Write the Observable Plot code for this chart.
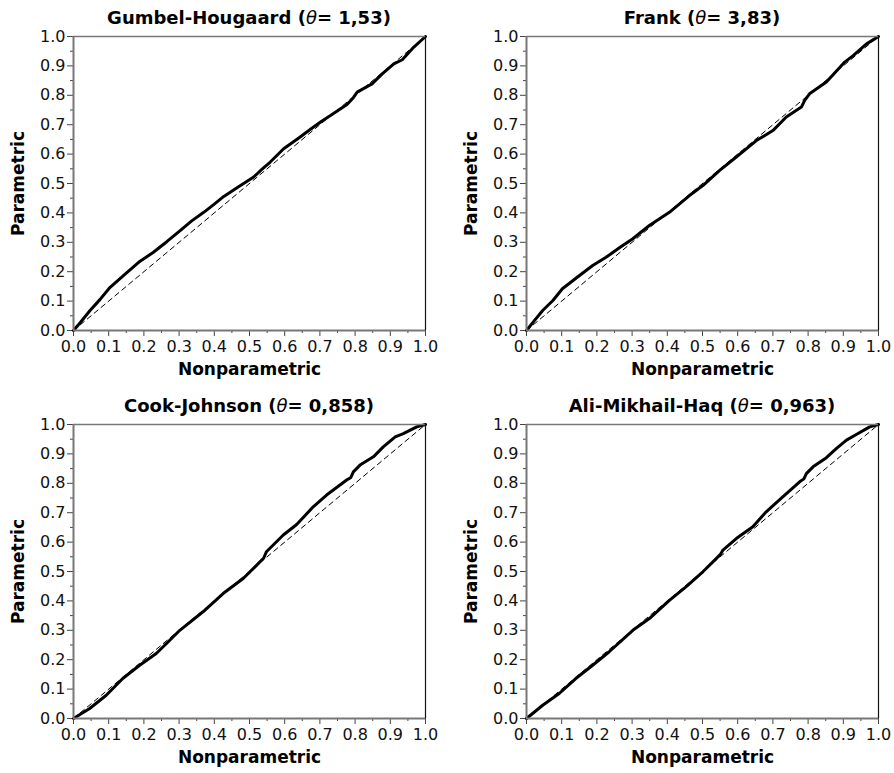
<!DOCTYPE html>
<html><head><meta charset="utf-8">
<script src="https://cdn.jsdelivr.net/npm/d3@7"></script>
<script src="https://cdn.jsdelivr.net/npm/@observablehq/plot@0.6"></script>
<style>
body{margin:0;background:#fff;}
#wrap{position:relative;width:894px;height:773px;font-family:"DejaVu Sans",sans-serif;overflow:hidden;}
.panel{position:absolute;}
.panel svg{position:absolute;left:0;top:0;}
.title{position:absolute;font-weight:bold;font-size:18px;text-align:center;line-height:24px;white-space:nowrap;color:#000;z-index:2;}
.title i{font-weight:normal;}
</style></head><body><div id="wrap"></div>
<script>
// Panel names and copula parameters
const copulaNames = ["Gumbel-Hougaard", "Frank", "Cook-Johnson", "Ali-Mikhail-Haq"];
const thetaLabels = ["1,53", "3,83", "0,858", "0,963"];

// Axis ticks
const majorTicks = [0, 0.1, 0.2, 0.3, 0.4, 0.5, 0.6, 0.7, 0.8, 0.9, 1.0];
const minorTicks = [0.05, 0.15, 0.25, 0.35, 0.45, 0.55, 0.65, 0.75, 0.85, 0.95];

// Reference (1:1) line
const diagX = [0, 1];
const diagY = [0, 1];

// Gumbel-Hougaard: nonparametric vs parametric
const gumbelX = [0, 0.02, 0.047, 0.075, 0.104, 0.145, 0.185, 0.227, 0.265, 0.303, 0.335, 0.370, 0.400, 0.427, 0.470, 0.512, 0.535, 0.559, 0.597, 0.640, 0.682, 0.705, 0.730, 0.777, 0.795, 0.806, 0.848, 0.877, 0.910, 0.934, 0.967, 1.0];
const gumbelY = [0, 0.028, 0.068, 0.105, 0.147, 0.190, 0.232, 0.266, 0.302, 0.340, 0.372, 0.402, 0.430, 0.456, 0.490, 0.522, 0.548, 0.573, 0.618, 0.655, 0.692, 0.712, 0.731, 0.769, 0.792, 0.811, 0.839, 0.873, 0.907, 0.921, 0.964, 1.0];

// Frank
const frankX = [0, 0.02, 0.046, 0.075, 0.102, 0.145, 0.188, 0.226, 0.265, 0.302, 0.349, 0.406, 0.463, 0.501, 0.548, 0.596, 0.653, 0.700, 0.738, 0.781, 0.790, 0.804, 0.852, 0.904, 0.928, 0.966, 1.0];
const frankY = [0, 0.030, 0.068, 0.102, 0.142, 0.182, 0.221, 0.249, 0.282, 0.312, 0.357, 0.402, 0.459, 0.493, 0.544, 0.590, 0.646, 0.680, 0.726, 0.760, 0.782, 0.805, 0.845, 0.913, 0.935, 0.975, 1.0];

// Cook-Johnson
const cookX = [0, 0.046, 0.093, 0.140, 0.188, 0.235, 0.270, 0.302, 0.368, 0.425, 0.482, 0.529, 0.540, 0.548, 0.596, 0.634, 0.681, 0.719, 0.776, 0.788, 0.795, 0.814, 0.852, 0.880, 0.914, 0.937, 0.975, 1.0];
const cookY = [0, 0.034, 0.079, 0.136, 0.181, 0.221, 0.262, 0.300, 0.363, 0.425, 0.476, 0.532, 0.545, 0.567, 0.624, 0.660, 0.720, 0.760, 0.811, 0.820, 0.839, 0.862, 0.890, 0.924, 0.958, 0.969, 0.992, 1.0];

// Ali-Mikhail-Haq
const amhX = [0, 0.046, 0.093, 0.140, 0.188, 0.235, 0.302, 0.349, 0.406, 0.453, 0.501, 0.539, 0.552, 0.558, 0.596, 0.643, 0.681, 0.728, 0.776, 0.788, 0.795, 0.814, 0.852, 0.880, 0.909, 0.937, 0.975, 1.0];
const amhY = [0, 0.045, 0.085, 0.136, 0.181, 0.227, 0.300, 0.340, 0.402, 0.448, 0.499, 0.544, 0.560, 0.573, 0.612, 0.652, 0.703, 0.754, 0.805, 0.815, 0.833, 0.856, 0.887, 0.918, 0.947, 0.966, 0.992, 1.0];

const seriesX = [gumbelX, frankX, cookX, amhX];
const seriesY = [gumbelY, frankY, cookY, amhY];

const positions = [[0, 0, 447], [453, 0, 441], [0, 388, 447], [453, 388, 441]];
const wrap = document.getElementById("wrap");
const fmt = d3.format(".1f");
const noText = () => "";

for (let k = 0; k < 4; k++) {
  const [left, top, width] = positions[k];
  const curve = seriesX[k].map((x, i) => ({x, y: seriesY[k][i]}));
  const diag = diagX.map((x, i) => ({x, y: diagY[i]}));
  const div = document.createElement("div");
  div.className = "panel";
  div.style.left = left + "px";
  div.style.top = top + "px";
  div.style.width = width + "px";
  div.style.height = "386px";
  const t = document.createElement("div");
  t.className = "title";
  t.style.left = "73px";
  t.style.width = "352px";
  t.style.top = "6px";
  t.innerHTML = `${copulaNames[k]} (<i>θ</i>= ${thetaLabels[k]})`;
  const chart = Plot.plot({
    width, height: 386,
    marginLeft: 73, marginRight: width - 73 - 352, marginTop: 36, marginBottom: 56,
    style: {fontFamily: "DejaVu Sans, sans-serif", fontSize: "16px", color: "#111", background: "white", overflow: "visible"},
    x: {domain: [0, 1], nice: false},
    y: {domain: [0, 1], nice: false},
    marks: [
      Plot.axisX(minorTicks, {anchor: "bottom", tickSize: 3, tickFormat: noText, stroke: "#444", label: null}),
      Plot.axisY(minorTicks, {anchor: "left", tickSize: 3, tickFormat: noText, stroke: "#444", label: null}),
      Plot.axisX(majorTicks, {anchor: "bottom", tickSize: 6, tickPadding: 4, tickFormat: fmt, stroke: "#444", fill: "#111", fontSize: 16, label: null}),
      Plot.axisY(majorTicks, {anchor: "left", tickSize: 6, tickPadding: 2, tickFormat: fmt, stroke: "#444", fill: "#111", fontSize: 16, label: null}),
      Plot.line(diag, {x: "x", y: "y", stroke: "#000", strokeWidth: 1, strokeDasharray: "5,4"}),
      Plot.line(curve, {x: "x", y: "y", stroke: "#000", strokeWidth: 3, strokeLinejoin: "round", strokeLinecap: "round"}),
      Plot.ruleY([1], {stroke: "#777", strokeWidth: 1.5}),
      Plot.ruleX([1], {stroke: "#111", strokeWidth: 1.2}),
      Plot.ruleY([0], {stroke: "#777", strokeWidth: 2}),
      Plot.ruleX([0], {stroke: "#777", strokeWidth: 2}),
      Plot.text(["Nonparametric"], {frameAnchor: "bottom", dy: 39, lineAnchor: "middle", textAnchor: "middle", fontWeight: "bold", fontSize: 17, fill: "#000"}),
      Plot.text(["Parametric"], {frameAnchor: "left", dx: -55, rotate: -90, lineAnchor: "middle", textAnchor: "middle", fontWeight: "bold", fontSize: 17, fill: "#000"})
    ]
  });
  div.appendChild(chart);
  div.appendChild(t);
  wrap.appendChild(div);
}
</script>
</body></html>
